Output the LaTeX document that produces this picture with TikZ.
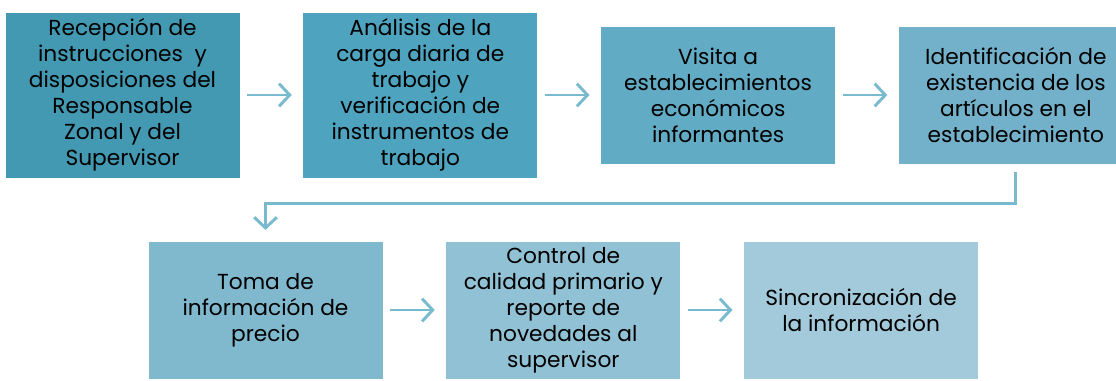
\documentclass[tikz,border=0pt]{standalone}
\usepackage{fontspec}
\setmainfont{Poppins}
\usetikzlibrary{arrows.meta,positioning}

\definecolor{tealA}{RGB}{67,153,178}
\definecolor{tealB}{RGB}{78,163,190}
\definecolor{tealC}{RGB}{98,171,196}
\definecolor{tealD}{RGB}{114,177,201}
\definecolor{tealE}{RGB}{128,185,206}
\definecolor{tealF}{RGB}{145,193,212}
\definecolor{tealG}{RGB}{162,202,219}
\definecolor{flow}{RGB}{122,186,207}

\begin{document}
\begin{tikzpicture}[x=0.75pt,y=-0.75pt,node distance=46.5pt,>={Straight Barb[length=8pt,width=17pt]}]

	\tikzstyle{task}   = [rectangle, draw=white, line width=0.6pt, inner sep=0pt, align=center, minimum width=176.25pt, minimum height=124.5pt, font=\fontsize{16.3}{19.5}\selectfont]
	\tikzstyle{short task} = [task, minimum height=103.5pt]
	\tikzstyle{pre} = [->, draw=flow, line width=2.2pt, shorten <=5pt, shorten >=8pt]

	\useasboundingbox (0,0) rectangle (1116,381);

	% first row
	\node [task, fill=tealA] (rec) at (122.5,95) {Recepción de\\instrucciones~ y\\disposiciones del\\Responsable\\Zonal y del\\Supervisor};
	\node [task, fill=tealB] (ana) [right=of rec] {Análisis de la\\carga diaria de\\trabajo y\\verificación de\\instrumentos de\\trabajo};
	\node [short task, fill=tealC] (vis) [right=of ana] {Visita a\\establecimientos\\económicos\\informantes};
	\node [short task, fill=tealD] (ide) [right=of vis] {Identificación de\\existencia de los\\artículos en el\\establecimiento};

	% second row
	\node [short task, fill=tealE] (tom) at (265.5,310) {Toma de\\información de\\precio};
	\node [short task, fill=tealF] (con) [right=of tom] {Control de\\calidad primario y\\reporte de\\novedades al\\supervisor};
	\node [short task, fill=tealG] (sin) [right=of con] {Sincronización de\\la información};

	\draw [pre] (rec) -- (ana);
	\draw [pre] (ana) -- (vis);
	\draw [pre] (vis) -- (ide);
	\draw [pre, shorten <=6pt] (ide.south) -- ++(0,39) -| (tom.north);
	\draw [pre] (tom) -- (con);
	\draw [pre] (con) -- (sin);

\end{tikzpicture}
\end{document}
